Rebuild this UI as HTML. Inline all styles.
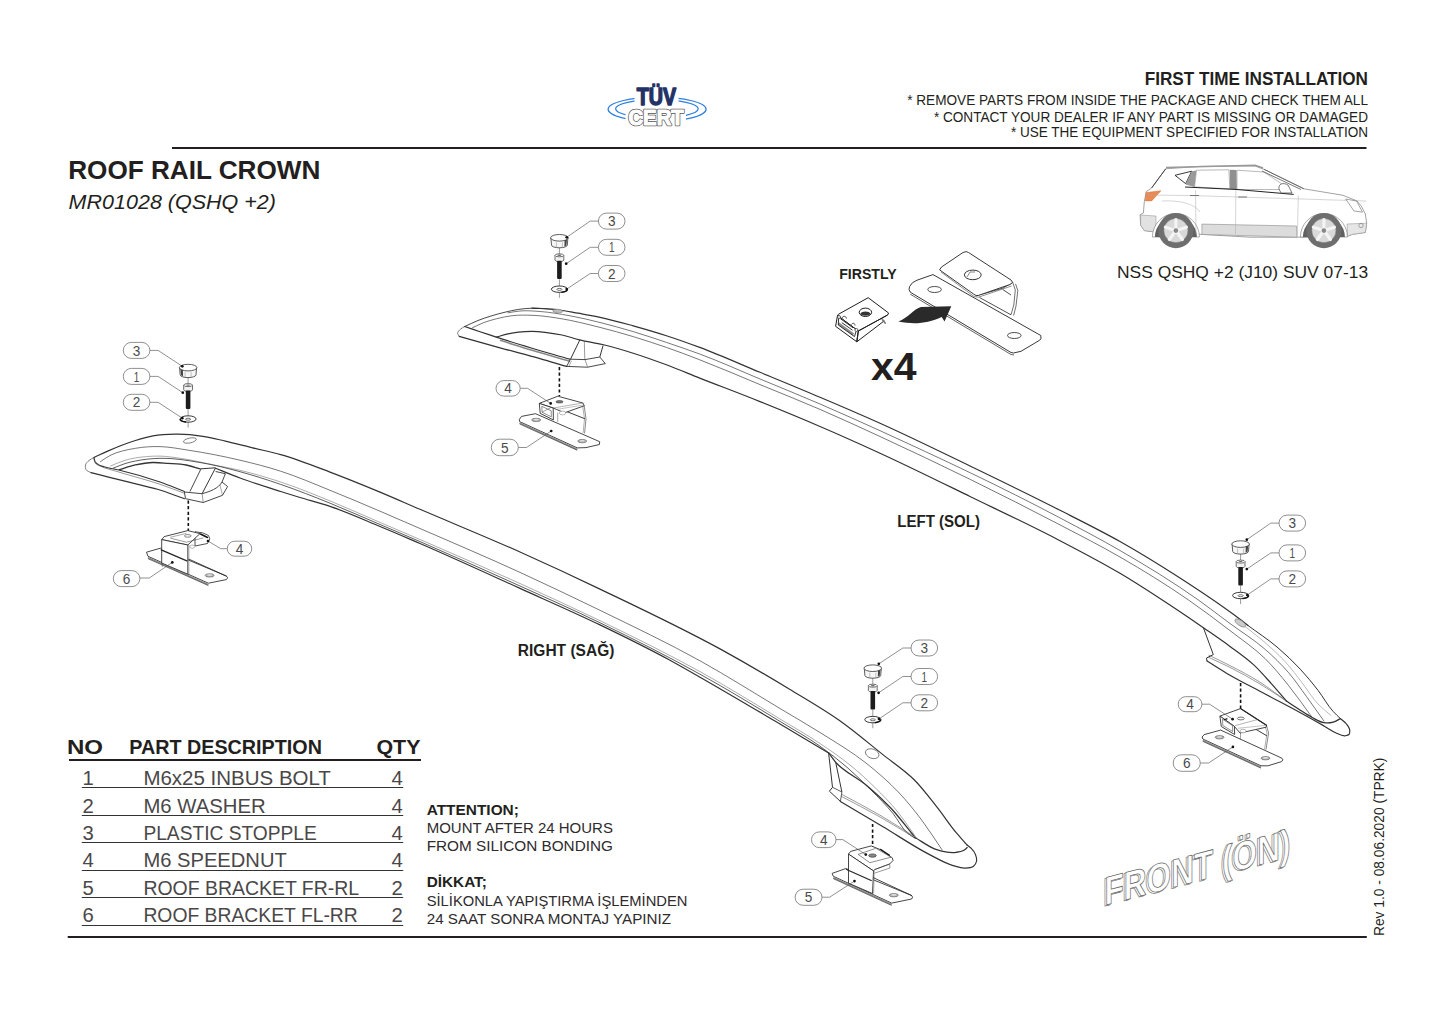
<!DOCTYPE html>
<html><head><meta charset="utf-8"><title>Roof Rail Crown</title>
<style>
html,body{margin:0;padding:0;background:#fff;width:1445px;height:1022px;overflow:hidden}
svg{display:block;font-family:"Liberation Sans",sans-serif}
.t{fill:#231f20}
.tb{fill:#231f20;font-weight:bold}
.tl{fill:#4a4748}
.tm{fill:#2e2b2c}
.ln{stroke:#231f20;fill:none}
.rl{stroke:#2b2b2b;fill:none;stroke-width:1.2;stroke-linejoin:round;stroke-linecap:round}
.th{stroke:#555;fill:none;stroke-width:0.7}
.bub{fill:#fff;stroke:#777;stroke-width:0.8}
.bn{fill:#444;font-size:13px;text-anchor:middle}
.ld{stroke:#555;fill:none;stroke-width:0.7}
</style></head>
<body>
<svg width="1445" height="1022" viewBox="0 0 1445 1022">
<rect width="1445" height="1022" fill="#fff"/>

<text class="tb" x="1144.7" y="84.9" font-size="17.9" textLength="223.3" lengthAdjust="spacingAndGlyphs" >FIRST TIME INSTALLATION</text>
<text class="t" x="907.2" y="104.8" font-size="15.4" textLength="460.8" lengthAdjust="spacingAndGlyphs" >* REMOVE PARTS FROM INSIDE THE PACKAGE AND CHECK THEM ALL</text>
<text class="t" x="933.9" y="121.5" font-size="15.4" textLength="434.1" lengthAdjust="spacingAndGlyphs" >* CONTACT YOUR DEALER IF ANY PART IS MISSING OR DAMAGED</text>
<text class="t" x="1010.9" y="137.4" font-size="15.4" textLength="357.1" lengthAdjust="spacingAndGlyphs" >* USE THE EQUIPMENT SPECIFIED FOR INSTALLATION</text>
<line class="ln" x1="172" y1="148" x2="1366.5" y2="148" stroke-width="2.2"/>
<text class="tb" x="68.2" y="179.1" font-size="26" textLength="252.2" lengthAdjust="spacingAndGlyphs" >ROOF RAIL CROWN</text>
<text class="t" x="68.6" y="209.1" font-size="20.5" textLength="207.4" lengthAdjust="spacingAndGlyphs" font-style="italic">MR01028 (QSHQ +2)</text>
<text class="tb" x="66.9" y="754.3" font-size="20.5" textLength="36.1" lengthAdjust="spacingAndGlyphs" >NO</text>
<text class="tb" x="129.3" y="754.3" font-size="20.5" textLength="192.6" lengthAdjust="spacingAndGlyphs" >PART DESCRIPTION</text>
<text class="tb" x="376.4" y="754.3" font-size="20.5" textLength="44.1" lengthAdjust="spacingAndGlyphs" >QTY</text>
<line class="ln" x1="69" y1="760" x2="421" y2="760" stroke-width="2"/>
<text class="tl" x="82.6" y="785" font-size="20.3" >1</text>
<text class="tl" x="143.4" y="785" font-size="20.3" textLength="187.5" lengthAdjust="spacingAndGlyphs" >M6x25 INBUS BOLT</text>
<text class="tl" x="391.6" y="785" font-size="20.3" >4</text>
<line x1="81.8" y1="787.5" x2="403.2" y2="787.5" stroke="#333" stroke-width="1.1"/>
<text class="tl" x="82.6" y="812.5" font-size="20.3" >2</text>
<text class="tl" x="143.4" y="812.5" font-size="20.3" textLength="122.2" lengthAdjust="spacingAndGlyphs" >M6 WASHER</text>
<text class="tl" x="391.6" y="812.5" font-size="20.3" >4</text>
<line x1="81.8" y1="815.5" x2="403.2" y2="815.5" stroke="#333" stroke-width="1.1"/>
<text class="tl" x="82.6" y="840" font-size="20.3" >3</text>
<text class="tl" x="143.4" y="840" font-size="20.3" textLength="173.4" lengthAdjust="spacingAndGlyphs" >PLASTIC STOPPLE</text>
<text class="tl" x="391.6" y="840" font-size="20.3" >4</text>
<line x1="81.8" y1="842.5" x2="403.2" y2="842.5" stroke="#333" stroke-width="1.1"/>
<text class="tl" x="82.6" y="867.4" font-size="20.3" >4</text>
<text class="tl" x="143.4" y="867.4" font-size="20.3" textLength="143.4" lengthAdjust="spacingAndGlyphs" >M6 SPEEDNUT</text>
<text class="tl" x="391.6" y="867.4" font-size="20.3" >4</text>
<line x1="81.8" y1="870.5" x2="403.2" y2="870.5" stroke="#333" stroke-width="1.1"/>
<text class="tl" x="82.6" y="895" font-size="20.3" >5</text>
<text class="tl" x="143.4" y="895" font-size="20.3" textLength="215.7" lengthAdjust="spacingAndGlyphs" >ROOF BRACKET FR-RL</text>
<text class="tl" x="391.6" y="895" font-size="20.3" >2</text>
<line x1="81.8" y1="897.5" x2="403.2" y2="897.5" stroke="#333" stroke-width="1.1"/>
<text class="tl" x="82.6" y="922.4" font-size="20.3" >6</text>
<text class="tl" x="143.4" y="922.4" font-size="20.3" textLength="214.4" lengthAdjust="spacingAndGlyphs" >ROOF BRACKET FL-RR</text>
<text class="tl" x="391.6" y="922.4" font-size="20.3" >2</text>
<line x1="81.8" y1="925.5" x2="403.2" y2="925.5" stroke="#333" stroke-width="1.1"/>
<text class="tb" x="426.7" y="814.8" font-size="15.3" textLength="92.2" lengthAdjust="spacingAndGlyphs" >ATTENTION;</text>
<text class="tm" x="426.7" y="832.8" font-size="15.3" textLength="186.2" lengthAdjust="spacingAndGlyphs" >MOUNT AFTER 24 HOURS</text>
<text class="tm" x="426.7" y="850.6" font-size="15.3" textLength="186.2" lengthAdjust="spacingAndGlyphs" >FROM SILICON BONDING</text>
<text class="tb" x="426.7" y="887" font-size="15.3" textLength="60.2" lengthAdjust="spacingAndGlyphs" >DİKKAT;</text>
<text class="tm" x="426.7" y="905.8" font-size="15.3" textLength="260.8" lengthAdjust="spacingAndGlyphs" >SİLİKONLA YAPIŞTIRMA İŞLEMİNDEN</text>
<text class="tm" x="426.7" y="923.9" font-size="15.3" textLength="244.3" lengthAdjust="spacingAndGlyphs" >24 SAAT SONRA MONTAJ YAPINIZ</text>
<line class="ln" x1="67.7" y1="937" x2="1366.8" y2="937" stroke-width="2"/>
<path d="M532.0,308.2 C540.0,308.6 548.1,308.6 556.0,309.5 C563.4,310.3 570.7,311.9 578.0,313.2 C585.3,314.5 592.7,315.7 600.0,317.3 C611.2,319.7 622.2,322.8 633.2,325.8 C644.3,328.9 655.4,332.1 666.4,335.7 C677.6,339.3 688.7,343.3 699.7,347.4 C720.1,355.0 739.9,364.0 760.0,372.3 C780.0,380.6 800.1,388.8 820.0,397.3 C840.1,405.8 860.1,414.4 880.0,423.3 C910.3,436.9 940.1,451.6 970.0,466.0 C1000.1,480.5 1030.2,495.1 1060.0,510.3 C1080.1,520.5 1100.4,530.5 1120.0,541.5 C1140.4,553.0 1160.3,565.3 1180.0,578.0 C1198.4,589.9 1216.8,602.0 1234.4,615.1 C1239.0,618.5 1243.5,622.0 1248.0,625.5" stroke-width="1.2" stroke="#333333" fill="none" stroke-linecap="round" stroke-linejoin="round"/>
<path d="M1248.0,625.5 C1257.7,632.7 1267.8,639.2 1277.0,647.0 C1285.2,654.0 1293.1,661.4 1300.4,669.3 C1306.6,676.0 1312.5,683.1 1318.1,690.4 C1323.4,697.3 1327.4,705.2 1333.3,711.6 C1335.5,714.0 1338.0,716.3 1340.4,718.6" stroke-width="1.0" stroke="#333333" fill="none" stroke-linecap="round" stroke-linejoin="round"/>
<path d="M464.7,326.5 C469.1,324.5 473.5,322.3 478.0,320.5 C482.2,318.8 486.5,317.4 490.8,316.1 C495.5,314.6 500.2,313.3 505.0,312.2 C509.4,311.1 513.9,310.1 518.4,309.4 C522.9,308.7 527.5,308.4 532.0,308.2 C540.0,307.9 548.0,309.1 556.0,309.5" stroke-width="0.9" stroke="#333333" fill="none" stroke-linecap="round" stroke-linejoin="round"/>
<path d="M508.0,312.8 C512.0,312.2 516.0,311.3 520.0,311.0 C526.6,310.4 533.4,311.0 540.0,311.5 C550.1,312.2 560.1,314.0 570.0,315.8 C580.1,317.6 590.1,320.0 600.0,322.5 C611.1,325.3 622.2,328.3 633.2,331.6 C644.3,334.9 655.4,338.7 666.4,342.4 C677.5,346.2 688.7,349.9 699.7,354.0 C720.1,361.6 739.9,370.6 760.0,379.0 C780.0,387.3 800.1,395.4 820.0,404.0 C840.1,412.7 860.1,421.6 880.0,430.7 C940.7,458.3 1001.1,486.8 1060.0,517.9 C1080.1,528.5 1100.3,539.1 1120.0,550.5 C1146.7,566.0 1173.2,582.1 1198.4,600.0 C1209.1,607.6 1219.4,615.7 1230.0,623.5 C1241.7,632.2 1254.3,639.8 1265.2,649.4 C1273.5,656.7 1281.5,664.4 1288.7,672.8 C1295.1,680.2 1300.5,688.4 1306.3,696.3 C1312.3,704.5 1318.0,712.8 1323.9,721.0" stroke-width="0.8" stroke="#555555" fill="none" stroke-linecap="round" stroke-linejoin="round"/>
<path d="M472.5,327.7 C476.3,326.0 480.1,324.0 484.0,322.5 C488.0,321.0 492.2,319.9 496.3,318.8 C501.8,317.4 507.3,316.2 512.9,315.6 C519.2,314.9 525.6,315.1 532.0,315.3 C541.4,315.6 550.7,317.0 560.0,318.5 C573.5,320.6 586.8,324.1 600.0,327.4 C611.1,330.2 622.2,333.3 633.2,336.6 C644.3,340.0 655.4,343.6 666.4,347.4 C677.6,351.3 688.7,355.5 699.7,359.8 C720.0,367.6 739.9,376.3 760.0,384.6 C780.0,392.8 800.1,400.8 820.0,409.4 C840.1,418.1 860.1,427.3 880.0,436.5 C940.7,464.5 1000.8,493.9 1060.0,524.9 C1080.1,535.4 1100.4,545.7 1120.0,557.0 C1143.3,570.5 1166.4,584.6 1188.5,600.0 C1202.6,609.8 1216.4,620.1 1230.0,630.6 C1241.9,639.8 1254.5,648.2 1265.2,658.7 C1273.7,667.0 1281.2,676.4 1288.7,685.7 C1297.0,696.0 1304.4,706.9 1312.2,717.5" stroke-width="0.8" stroke="#555555" fill="none" stroke-linecap="round" stroke-linejoin="round"/>
<path d="M496.3,337.1 C500.2,336.0 504.0,334.7 508.0,333.8 C511.4,333.1 514.9,332.5 518.4,332.1 C522.9,331.6 527.5,331.4 532.0,331.4 C536.3,331.4 540.7,331.8 545.0,332.3 C550.7,332.9 556.4,333.8 562.0,335.0 C567.9,336.3 573.6,338.4 579.5,339.8 C587.1,341.7 594.9,342.7 602.5,344.5 C612.8,347.0 623.1,350.0 633.2,353.2 C644.4,356.7 655.4,360.7 666.4,364.8 C677.6,369.0 688.6,373.7 699.7,378.1 C719.8,386.0 740.0,393.5 760.0,401.6 C780.1,409.7 800.1,417.9 820.0,426.5 C840.1,435.1 860.1,444.1 880.0,453.2 C910.3,467.1 940.1,481.9 970.0,496.5 C1000.1,511.1 1030.4,525.2 1060.0,540.7 C1080.2,551.2 1100.4,561.7 1120.0,573.3 C1133.5,581.3 1146.8,589.9 1160.0,598.5 C1174.6,608.0 1189.1,617.8 1203.4,627.7 C1212.3,633.9 1221.3,640.0 1230.0,646.4 C1238.0,652.3 1246.2,657.9 1253.5,664.6 C1259.8,670.4 1265.4,677.0 1271.1,683.4 C1276.3,689.2 1281.3,695.1 1286.4,701.0" stroke-width="1.2" stroke="#333333" fill="none" stroke-linecap="round" stroke-linejoin="round"/>
<path d="M464.7,326.5 C469.8,328.2 474.9,330.0 480.0,331.7 C485.4,333.5 490.9,335.3 496.3,337.1 C508.2,341.0 520.1,344.6 532.0,348.2 C544.6,352.0 557.3,355.5 569.9,359.2" stroke-width="1.2" stroke="#333333" fill="none" stroke-linecap="round" stroke-linejoin="round"/>
<path d="M500.0,340.3 C510.7,343.6 521.3,347.1 532.0,350.3 C544.6,354.1 557.3,357.6 569.9,361.2" stroke-width="1.6" stroke="#888" fill="none" />
<path d="M464.7,326.5 C463.3,327.4 461.7,328.1 460.5,329.2 C459.3,330.3 457.5,331.9 457.6,333.3 C457.7,334.3 458.7,335.3 459.2,336.3" stroke-width="0.7" stroke="#444" fill="none" stroke-linecap="round" stroke-linejoin="round"/>
<path d="M459.2,336.3 C472.8,340.1 486.4,344.0 500.0,347.8 C513.3,351.5 526.7,354.8 540.0,358.6 C548.9,361.1 557.7,363.8 566.6,366.4" stroke-width="1.25" stroke="#333333" fill="none" stroke-linecap="round" stroke-linejoin="round"/>
<path d="M579.9,339.8 L570.5,359.2" stroke-width="1.0" stroke="#333333" fill="none" stroke-linejoin="round"/>
<path d="M584.3,340.9 L584.8,359.5" stroke-width="0.6" stroke="#555555" fill="none" stroke-linejoin="round"/>
<path d="M603.1,345.4 L599.8,357.0" stroke-width="1.0" stroke="#333333" fill="none" stroke-linejoin="round"/>
<path d="M570.5,359.2 L585.0,359.6 L599.8,357.0 L605.3,363.6 L587.6,367.2 L566.6,366.4 L570.5,359.2" stroke-width="0.9" stroke="#333333" fill="none" stroke-linejoin="round"/>
<path d="M585.0,359.6 L587.6,367.2" stroke-width="0.6" stroke="#555555" fill="none" stroke-linejoin="round"/>
<path d="M571.5,360.8 L569.0,366.2" stroke-width="0.5" stroke="#555555" fill="none" stroke-linejoin="round"/>
<ellipse cx="557.7" cy="311" rx="5" ry="1.8" fill="#bbb" stroke="#777" stroke-width="0.5" transform="rotate(4 557.7 311)"/>
<path d="M1203.4,627.7 L1213.3,654.6 L1206.5,658.0 L1207.0,661.0" stroke-width="1.0" stroke="#333333" fill="none" stroke-linejoin="round"/>
<path d="M1209.0,655.3 C1216.0,658.7 1223.1,662.0 1230.0,665.6 C1240.2,670.8 1250.4,676.1 1260.0,682.2 C1269.1,688.0 1277.6,694.7 1286.4,701.0" stroke-width="0.6" stroke="#555555" fill="none" stroke-linecap="round" stroke-linejoin="round"/>
<path d="M1208.5,657.3 C1215.7,660.7 1222.9,663.8 1230.0,667.4 C1240.2,672.5 1250.2,678.1 1260.0,684.0 C1269.0,689.4 1277.6,695.3 1286.4,701.0" stroke-width="0.6" stroke="#555555" fill="none" stroke-linecap="round" stroke-linejoin="round"/>
<path d="M1207.0,661.0 C1214.7,665.7 1222.2,670.7 1230.0,675.2 C1241.5,681.9 1253.5,687.7 1265.2,694.0 C1276.9,700.3 1288.7,706.4 1300.4,712.8 C1308.3,717.1 1316.1,721.5 1323.9,725.9 C1327.8,728.1 1331.5,730.9 1335.7,732.7 C1338.7,734.0 1341.9,736.2 1345.0,735.8 C1346.3,735.6 1348.2,735.4 1349.0,734.5 C1349.7,733.7 1349.8,732.1 1349.8,731.0 C1349.9,728.3 1347.7,725.7 1346.0,723.5 C1344.5,721.6 1342.3,720.2 1340.4,718.6" stroke-width="1.2" stroke="#333333" fill="none" stroke-linecap="round" stroke-linejoin="round"/>
<path d="M1286.4,701.0 C1290.9,704.0 1295.4,707.1 1300.0,710.0 C1304.0,712.6 1308.0,715.3 1312.2,717.5 C1316.0,719.5 1319.8,722.1 1323.9,722.7 C1326.9,723.1 1330.3,722.9 1333.3,722.1 C1335.8,721.4 1338.0,719.8 1340.4,718.6" stroke-width="1.3" stroke="#333333" fill="none" stroke-linecap="round" stroke-linejoin="round"/>
<path d="M1236.0,619.5 C1244.7,626.3 1253.6,632.8 1262.0,640.0 C1269.9,646.8 1277.9,653.8 1285.0,661.5 C1291.5,668.6 1297.1,676.4 1303.0,684.0 C1308.1,690.6 1312.3,698.0 1318.0,704.0 C1322.0,708.2 1326.7,711.7 1331.0,715.5" stroke-width="0.5" stroke="#777" fill="none" stroke-linecap="round" stroke-linejoin="round"/>
<ellipse cx="1240.3" cy="623" rx="6.2" ry="2.6" fill="#ccc" stroke="#777" stroke-width="0.6" transform="rotate(33 1240.3 623)"/>
<path d="M94.0,457.5 C98.6,455.4 103.1,453.1 107.7,451.1 C116.8,447.1 126.0,443.4 135.4,440.5 C141.2,438.7 147.1,436.9 153.0,435.8 C161.2,434.3 169.7,434.1 178.0,434.2 C186.3,434.3 194.7,435.1 202.9,436.3 C210.5,437.4 217.9,439.4 225.4,441.1 C234.5,443.2 243.6,445.6 252.7,447.8 C262.0,450.1 271.5,452.0 280.7,454.6 C297.5,459.3 313.7,465.9 330.0,472.1 C346.8,478.4 363.4,485.2 380.0,492.1 C393.4,497.7 406.7,503.6 420.0,509.3 C453.3,523.6 486.9,537.2 520.0,552.0 C546.8,564.0 573.5,576.4 600.0,589.1 C640.3,608.4 680.8,627.4 720.0,648.9 C743.6,661.9 766.9,675.5 790.0,689.5 C806.4,699.4 823.1,709.0 838.8,720.0 C854.0,730.7 868.1,742.8 882.6,754.4 C893.1,762.7 904.4,770.1 913.9,779.5 C922.6,788.1 929.8,798.1 937.4,807.7 C943.9,815.9 949.5,824.7 956.2,832.7 C959.8,837.0 963.5,841.0 967.2,845.2" stroke-width="1.2" stroke="#333333" fill="none" stroke-linecap="round" stroke-linejoin="round"/>
<path d="M100.5,461.6 C103.7,459.6 106.7,457.2 110.0,455.5 C117.7,451.5 126.8,449.8 135.4,448.3 C143.5,446.9 151.8,446.4 160.0,446.6 C169.5,446.8 179.0,448.8 188.4,450.2 C205.7,452.8 223.0,456.2 240.0,460.2 C253.7,463.4 267.3,466.9 280.7,471.2 C297.5,476.6 313.7,483.7 330.0,490.3 C346.8,497.0 363.4,504.1 380.0,511.2 C393.4,516.9 406.7,522.7 420.0,528.5 C453.4,543.0 486.9,557.2 520.0,572.4 C546.8,584.7 573.5,597.4 600.0,610.3 C633.6,626.7 667.4,642.7 700.0,660.8 C727.1,675.8 753.4,692.6 780.0,708.5 C793.3,716.5 806.8,724.2 820.0,732.5 C835.9,742.5 852.3,752.1 867.0,763.8 C878.0,772.5 888.6,781.9 898.3,792.0 C906.7,800.8 914.4,810.4 921.8,820.2 C929.0,829.8 935.3,840.0 942.1,849.9" stroke-width="0.8" stroke="#555555" fill="none" stroke-linecap="round" stroke-linejoin="round"/>
<path d="M110.5,466.0 C115.3,464.1 120.0,461.8 125.0,460.3 C131.9,458.2 139.2,457.2 146.4,456.6 C150.9,456.2 155.5,456.0 160.0,456.1 C167.2,456.2 174.4,457.5 181.5,458.5 C193.1,460.2 204.6,463.1 216.1,465.4 C224.1,467.0 232.1,468.4 240.0,470.3 C253.7,473.5 267.3,477.6 280.7,482.0 C297.4,487.5 313.7,494.3 330.0,500.9 C346.8,507.7 363.3,515.3 380.0,522.4 C393.3,528.1 406.7,533.8 420.0,539.5 C453.4,553.9 486.8,568.5 520.0,583.5 C546.8,595.7 573.5,607.9 600.0,620.7 C633.7,637.0 667.3,653.5 700.0,671.6 C727.1,686.6 753.5,702.9 780.0,719.0 C793.4,727.1 807.0,734.8 820.0,743.5 C830.2,750.3 840.4,757.3 850.0,765.0 C858.7,772.0 867.0,779.7 875.0,787.5 C882.6,795.0 890.2,802.7 897.0,811.0 C902.3,817.5 907.1,824.6 912.0,831.5 C913.5,833.7 915.0,835.8 916.5,838.0" stroke-width="0.55" stroke="#666" fill="none" stroke-linecap="round" stroke-linejoin="round"/>
<path d="M113.2,468.2 C117.1,466.7 121.0,464.9 125.0,463.6 C128.4,462.5 131.9,461.7 135.4,461.0 C143.5,459.3 151.8,458.5 160.0,458.3 C173.3,457.9 186.8,460.3 200.0,462.5 C213.5,464.7 226.8,468.1 240.0,471.7 C253.7,475.4 267.3,479.8 280.7,484.4 C297.3,490.1 313.7,496.6 330.0,503.2 C346.8,510.0 363.3,517.4 380.0,524.5 C393.3,530.2 406.7,535.8 420.0,541.6 C453.5,556.1 486.8,571.0 520.0,586.0 C546.7,598.1 573.6,610.0 600.0,622.8 C633.7,639.1 667.2,656.0 700.0,674.2 C727.1,689.2 753.6,705.3 780.0,721.4 C793.4,729.6 807.2,737.1 820.0,746.2 C829.3,752.8 838.4,759.9 847.0,767.3 C855.3,774.5 863.2,782.2 871.0,790.0 C878.6,797.6 886.2,805.2 893.0,813.5 C898.3,819.9 901.6,828.3 908.0,833.5 C910.3,835.4 913.0,836.8 915.5,838.5" stroke-width="0.8" stroke="#333" fill="none" stroke-linecap="round" stroke-linejoin="round"/>
<path d="M215.4,468.2 C223.6,471.5 231.7,474.9 240.0,478.0 C253.4,483.0 267.1,487.2 280.7,491.5 C287.1,493.5 293.6,495.5 300.0,497.5 C310.0,500.5 320.1,503.1 330.0,506.4 C347.0,512.1 363.4,519.6 380.0,526.5 C393.4,532.0 406.7,537.8 420.0,543.5 C453.5,558.0 486.7,573.3 520.0,588.4 C546.7,600.5 573.6,612.2 600.0,624.9 C623.4,636.2 646.7,647.6 669.5,660.0 C679.7,665.6 689.9,671.4 700.0,677.2 C726.8,692.5 753.4,708.3 780.0,724.0 C796.2,733.6 812.4,743.3 828.6,752.9" stroke-width="1.2" stroke="#333333" fill="none" stroke-linecap="round" stroke-linejoin="round"/>
<path d="M828.6,752.9 C831.0,756.0 833.2,759.3 835.7,762.3 C844.2,772.1 857.1,777.4 867.0,785.8 C875.2,792.7 883.1,800.0 890.5,807.7 C898.9,816.5 906.1,826.5 913.9,835.9" stroke-width="1.3" stroke="#333333" fill="none" stroke-linecap="round" stroke-linejoin="round"/>
<path d="M828.6,752.9 L832.5,787.3 L829.4,791.2 L840.4,801.4" stroke-width="1.0" stroke="#333333" fill="none" stroke-linejoin="round"/>
<path d="M835.7,762.3 L841.9,792.0" stroke-width="1.0" stroke="#333333" fill="none" stroke-linejoin="round"/>
<path d="M832.5,787.3 L841.9,792.0 L840.4,801.4" stroke-width="0.8" stroke="#333333" fill="none" stroke-linejoin="round"/>
<path d="M841.9,794.4 C854.6,801.3 867.5,807.9 880.0,815.2 C891.7,822.0 903.0,829.5 914.5,836.6" stroke-width="0.6" stroke="#555555" fill="none" stroke-linecap="round" stroke-linejoin="round"/>
<path d="M841.5,796.4 C854.3,803.3 867.3,809.8 880.0,817.0 C891.6,823.6 903.0,830.7 914.5,837.6" stroke-width="0.6" stroke="#555555" fill="none" stroke-linecap="round" stroke-linejoin="round"/>
<path d="M840.4,801.4 C854.5,809.8 868.5,818.1 882.6,826.5 C898.3,835.8 913.3,846.3 929.6,854.6 C937.3,858.5 944.8,863.2 953.1,865.6 C957.0,866.7 961.0,868.4 965.0,868.2 C967.8,868.1 971.5,868.0 973.5,866.3 C974.9,865.1 976.2,862.9 976.6,861.0 C977.0,859.0 976.3,856.6 975.5,854.6 C974.6,852.2 972.8,850.0 971.0,848.2 C969.9,847.1 968.5,846.2 967.2,845.2" stroke-width="1.2" stroke="#333333" fill="none" stroke-linecap="round" stroke-linejoin="round"/>
<path d="M914.5,837.2 C922.1,841.4 929.2,847.5 937.4,849.9 C943.4,851.7 950.0,853.2 956.2,852.3 C958.6,852.0 961.4,851.7 963.5,850.5 C964.8,849.8 966.0,848.6 967.2,847.6" stroke-width="1.3" stroke="#333333" fill="none" stroke-linecap="round" stroke-linejoin="round"/>
<ellipse cx="872.2" cy="753.7" rx="7" ry="4.6" fill="#fff" stroke="#555" stroke-width="0.7" transform="rotate(20 872.2 753.7)"/>
<path d="M94.0,457.5 C94.3,458.8 94.4,460.3 95.0,461.5 C95.7,462.8 97.2,463.9 98.5,464.8 C100.1,465.8 102.1,466.2 104.0,466.8 C108.8,468.3 113.9,468.8 118.8,470.0 C132.7,473.3 146.5,477.4 160.0,482.1 C168.2,485.0 176.3,488.4 184.4,491.5" stroke-width="1.1" stroke="#333333" fill="none" stroke-linecap="round" stroke-linejoin="round"/>
<path d="M93.8,458.8 C94.4,460.4 94.5,462.3 95.5,463.5 C96.5,464.7 98.5,465.2 100.0,466.0 C105.6,468.8 112.0,469.9 118.0,471.8 C131.9,476.2 146.2,479.6 160.0,484.3 C168.2,487.1 176.3,490.3 184.4,493.3" stroke-width="0.6" stroke="#555555" fill="none" stroke-linecap="round" stroke-linejoin="round"/>
<path d="M94.0,457.5 C92.3,458.5 90.4,459.2 89.0,460.5 C87.6,461.7 85.9,463.3 85.5,465.0 C85.2,466.5 85.4,468.6 86.2,469.8 C87.1,471.3 89.5,471.7 91.1,472.7" stroke-width="0.7" stroke="#444" fill="none" stroke-linecap="round" stroke-linejoin="round"/>
<path d="M91.1,472.7 C104.1,475.9 117.0,479.2 130.0,482.4 C139.2,484.7 148.5,486.6 157.5,489.3 C166.6,492.0 175.4,495.6 184.4,498.7" stroke-width="1.2" stroke="#333333" fill="none" stroke-linecap="round" stroke-linejoin="round"/>
<path d="M119.3,469.6 C124.7,468.0 129.9,466.1 135.4,464.9 C141.2,463.7 147.1,462.7 153.0,462.5 C157.9,462.4 162.8,463.0 167.7,463.4 C173.9,463.8 180.2,463.8 186.3,465.0 C191.0,465.9 195.6,467.6 200.2,468.9" stroke-width="1.3" stroke="#333333" fill="none" stroke-linecap="round" stroke-linejoin="round"/>
<path d="M201.0,468.8 L215.4,467.8" stroke-width="1.0" stroke="#333333" fill="none" stroke-linejoin="round"/>
<path d="M201.0,468.8 L189.9,491.5" stroke-width="0.9" stroke="#333333" fill="none" stroke-linejoin="round"/>
<path d="M215.4,468.2 L202.1,493.7" stroke-width="1.0" stroke="#333333" fill="none" stroke-linejoin="round"/>
<path d="M215.6,471.5 L225.4,473.7 L222.0,482.0 L227.6,486.5 L222.5,495.3 L203.2,502.5 L185.5,498.7 L184.4,492.0 L202.1,493.7" stroke-width="0.9" stroke="#333333" fill="none" stroke-linejoin="round"/>
<path d="M202.1,493.7 C210,491.5 218.5,488.5 222,482" stroke-width="0.9" stroke="#333333" fill="none" />
<path d="M202.1,493.7 L203.2,502.5" stroke-width="0.6" stroke="#555555" fill="none" stroke-linejoin="round"/>
<path d="M219.8,484.5 L222.5,495.3" stroke-width="0.5" stroke="#555555" fill="none" stroke-linejoin="round"/>
<ellipse cx="189.9" cy="440.5" rx="6.6" ry="2.4" fill="#fff" stroke="#555" stroke-width="0.7" transform="rotate(-12 189.9 440.5)"/>
<line x1="559.4" y1="367" x2="559.4" y2="396" stroke="#111" stroke-width="1.6" stroke-dasharray="3.2,2.4"/>
<path d="M519.4,419.3 L521.5,416.4 L535.5,413.7 L599.7,441.7 L599.4,444.5 L586.0,447.6 L577.3,447.9 L519.6,421.6 Z" fill="#fff" stroke="#262626" stroke-width="0.85" stroke-linejoin="round"/>
<path d="M519.6,423.1 L577.3,449.4" stroke="#8a8a8a" stroke-width="1.6" fill="none"/>
<path d="M519.6,424.0 L577.3,450.29999999999995" stroke="#333" stroke-width="0.6" fill="none"/>
<ellipse cx="536.2" cy="419.9" rx="4.5" ry="1.7" fill="#b5b5b5" stroke="#555" stroke-width="0.6"/><ellipse cx="536.2" cy="419.6" rx="2.5" ry="0.8" fill="#e0e0e0"/>
<ellipse cx="582.2" cy="441.1" rx="4.5" ry="1.7" fill="#b5b5b5" stroke="#555" stroke-width="0.6"/><ellipse cx="582.2" cy="440.8" rx="2.5" ry="0.8" fill="#e0e0e0"/>
<path d="M584.2,405.8 L586.0,419.0 L584.6,433.0" fill="none" stroke="#555" stroke-width="0.7" stroke-linejoin="round" stroke-linecap="round"/>
<path d="M582.8,406.5 L584.5,419.0 L583.1,432.8" fill="none" stroke="#777" stroke-width="0.6" stroke-linejoin="round" stroke-linecap="round"/>
<path d="M564.8,410.8 L584.5,418.6" fill="none" stroke="#262626" stroke-width="0.9" stroke-linejoin="round" stroke-linecap="round"/>
<path d="M557.7,413.0 L557.7,421.5" fill="none" stroke="#666" stroke-width="0.6" stroke-linejoin="round" stroke-linecap="round"/>
<path d="M539.3,403.4 L557.8,396.2 L582.9,403.0 L584.2,405.8 L564.5,412.8 L553.2,408.0 Z" fill="#fff" stroke="#262626" stroke-width="0.85" stroke-linejoin="round"/>
<path d="M553.2,408.0 L582.9,403.0" fill="none" stroke="#666" stroke-width="0.5" stroke-linejoin="round" stroke-linecap="round"/>
<path d="M556.0,409.5 L583.5,405.0" fill="none" stroke="#888" stroke-width="0.5" stroke-linejoin="round" stroke-linecap="round"/>
<ellipse cx="562.5" cy="413" rx="3.2" ry="1.9" fill="#fff" stroke="#777" stroke-width="0.5"/>
<path d="M539.3,403.4 L540.2,413.4 L553.4,419.9 L553.2,408.0 Z" fill="#fff" stroke="#262626" stroke-width="0.85" stroke-linejoin="round"/>
<path d="M541.8,406.3 L542.1,412.3 L551.4,416.8 L551.2,410.8 Z" fill="#fff" stroke="#444" stroke-width="0.6" stroke-linejoin="round"/>
<path d="M542.3,412.0 L550.5,407.8" fill="none" stroke="#444" stroke-width="0.5" stroke-linejoin="round" stroke-linecap="round"/>
<ellipse cx="559.5" cy="401.8" rx="3.6" ry="1.3" fill="#777" stroke="#333" stroke-width="0.5"/>
<path d="M520.2,388.3 L527.5,388.3 L550.7,403.4" fill="none" stroke="#555" stroke-width="0.65"/><circle cx="550.7" cy="403.4" r="1.35" fill="#111"/>
<rect x="496.0" y="380.6" width="24.2" height="15.5" rx="7.8" ry="7.8" fill="#fff" stroke="#6a6a6a" stroke-width="0.75"/><text x="508.1" y="393.4" font-size="14.5" fill="#4a4a4a" text-anchor="middle" textLength="7.6" lengthAdjust="spacingAndGlyphs">4</text>
<path d="M518.3,447.5 L526.5,447.5 L551.2,431.0" fill="none" stroke="#555" stroke-width="0.65"/><circle cx="551.2" cy="431.0" r="1.35" fill="#111"/>
<rect x="491.3" y="439.2" width="27.0" height="16.5" rx="8.2" ry="8.2" fill="#fff" stroke="#6a6a6a" stroke-width="0.75"/><text x="504.8" y="452.6" font-size="14.5" fill="#4a4a4a" text-anchor="middle" textLength="7.6" lengthAdjust="spacingAndGlyphs">5</text>
<line x1="1240.6" y1="683" x2="1240.6" y2="708.5" stroke="#111" stroke-width="1.6" stroke-dasharray="3.2,2.4"/>
<path d="M1202.1,737.0 L1204.2,734.6 L1220.6,730.1 L1281.9,758.2 L1282.9,759.9 L1281.6,761.6 L1267.9,765.8 L1261.0,765.8 L1202.8,739.0 Z" fill="#fff" stroke="#262626" stroke-width="0.85" stroke-linejoin="round"/>
<path d="M1202.8,740.5 L1261,767.3" stroke="#8a8a8a" stroke-width="1.6" fill="none"/>
<path d="M1202.8,741.4 L1261,768.1999999999999" stroke="#333" stroke-width="0.6" fill="none"/>
<ellipse cx="1219.6" cy="737.3" rx="4.5" ry="1.7" fill="#b5b5b5" stroke="#555" stroke-width="0.6"/><ellipse cx="1219.6" cy="737.0" rx="2.5" ry="0.8" fill="#e0e0e0"/>
<ellipse cx="1265.5" cy="758.2" rx="4.5" ry="1.7" fill="#b5b5b5" stroke="#555" stroke-width="0.6"/><ellipse cx="1265.5" cy="757.9" rx="2.5" ry="0.8" fill="#e0e0e0"/>
<path d="M1266.5,725.3 L1268.6,733.0 L1266.0,749.3" fill="none" stroke="#555" stroke-width="0.7" stroke-linejoin="round" stroke-linecap="round"/>
<path d="M1265.0,726.0 L1267.0,733.0 L1264.6,749.1" fill="none" stroke="#777" stroke-width="0.6" stroke-linejoin="round" stroke-linecap="round"/>
<path d="M1256.2,729.5 L1266.5,735.6" fill="none" stroke="#262626" stroke-width="0.9" stroke-linejoin="round" stroke-linecap="round"/>
<path d="M1240.5,731.5 L1240.5,739.0" fill="none" stroke="#666" stroke-width="0.6" stroke-linejoin="round" stroke-linecap="round"/>
<path d="M1219.9,716.1 L1240.5,708.6 L1266.5,725.3 L1266.2,727.2 L1240.0,733.0 L1234.5,726.5 Z" fill="#fff" stroke="#262626" stroke-width="0.85" stroke-linejoin="round"/>
<path d="M1240.5,708.6 L1266.5,725.3" fill="none" stroke="#262626" stroke-width="1.2" stroke-linejoin="round" stroke-linecap="round"/>
<path d="M1235.5,725.5 L1257.0,719.7" fill="none" stroke="#666" stroke-width="0.5" stroke-linejoin="round" stroke-linecap="round"/>
<path d="M1238.5,728.2 L1264.5,725.5" fill="none" stroke="#888" stroke-width="0.5" stroke-linejoin="round" stroke-linecap="round"/>
<ellipse cx="1243" cy="731" rx="3" ry="1.8" fill="#fff" stroke="#777" stroke-width="0.5"/>
<path d="M1219.9,716.1 L1221.3,726.5 L1234.6,734.5 L1234.5,726.5 Z" fill="#fff" stroke="#262626" stroke-width="0.85" stroke-linejoin="round"/>
<path d="M1222.5,719.2 L1222.8,725.5 L1232.7,731.5 L1232.5,725.6 Z" fill="#fff" stroke="#444" stroke-width="0.6" stroke-linejoin="round"/>
<path d="M1224.5,719.5 L1227.0,718.8" fill="none" stroke="#111" stroke-width="1.2" stroke-linejoin="round" stroke-linecap="round"/>
<ellipse cx="1240.8" cy="718.5" rx="3.4" ry="1.4" fill="#fff" stroke="#333" stroke-width="0.7"/>
<path d="M1201.8,704.2 L1209.6,704.2 L1232.6,719.2" fill="none" stroke="#555" stroke-width="0.65"/><circle cx="1232.6" cy="719.2" r="1.35" fill="#111"/>
<rect x="1178.2" y="696.7" width="23.7" height="15.0" rx="7.5" ry="7.5" fill="#fff" stroke="#6a6a6a" stroke-width="0.75"/><text x="1190.0" y="709.3" font-size="14.5" fill="#4a4a4a" text-anchor="middle" textLength="7.6" lengthAdjust="spacingAndGlyphs">4</text>
<path d="M1200.4,763.0 L1208.6,763.0 L1232.9,746.9" fill="none" stroke="#555" stroke-width="0.65"/><circle cx="1232.9" cy="746.9" r="1.35" fill="#111"/>
<rect x="1173.2" y="754.8" width="27.1" height="16.5" rx="8.2" ry="8.2" fill="#fff" stroke="#6a6a6a" stroke-width="0.75"/><text x="1186.8" y="768.1" font-size="14.5" fill="#4a4a4a" text-anchor="middle" textLength="7.6" lengthAdjust="spacingAndGlyphs">6</text>
<line x1="188.3" y1="500.5" x2="188.3" y2="531.6" stroke="#111" stroke-width="1.6" stroke-dasharray="3.2,2.4"/>
<path d="M146.5,552.2 L160.4,548.2 L226.4,576.1 L227.7,577.8 L226.4,579.6 L208.4,583.2 L148.0,556.3 Z" fill="#fff" stroke="#262626" stroke-width="0.85" stroke-linejoin="round"/>
<path d="M148,557.8 L208.4,584.7" stroke="#8a8a8a" stroke-width="1.6" fill="none"/>
<path d="M148,558.6999999999999 L208.4,585.6" stroke="#333" stroke-width="0.6" fill="none"/>
<ellipse cx="209.6" cy="575.4" rx="4.5" ry="1.7" fill="#b5b5b5" stroke="#555" stroke-width="0.6"/><ellipse cx="209.6" cy="575.1" rx="2.5" ry="0.8" fill="#e0e0e0"/>
<path d="M195.0,531.8 L202.5,532.8 L208.5,535.5 L209.8,538.8 L207.5,543.5 L195.0,546.0 Z" fill="#fff" stroke="#262626" stroke-width="0.8" stroke-linejoin="round"/>
<path d="M200.5,534.0 L207.5,537.5" fill="none" stroke="#111" stroke-width="1.4" stroke-linejoin="round" stroke-linecap="round"/>
<path d="M161.7,539.6 L164.2,536.6 L187.8,530.6 L200.0,533.6 L187.8,545.0 Z" fill="#fff" stroke="#262626" stroke-width="0.85" stroke-linejoin="round"/>
<path d="M171.0,538.3 L186.5,542.2 L203.0,538.0" fill="none" stroke="#555" stroke-width="0.6" stroke-linejoin="round" stroke-linecap="round"/>
<path d="M170.5,537.2 L186.0,533.5" fill="none" stroke="#555" stroke-width="0.5" stroke-linejoin="round" stroke-linecap="round"/>
<path d="M161.7,539.6 L187.8,545.0 L187.8,574.2 L161.7,563.0 Z" fill="#fff" stroke="#262626" stroke-width="0.85" stroke-linejoin="round"/>
<path d="M161.2,549.8 L186.8,560.8" fill="none" stroke="#262626" stroke-width="1.3" stroke-linejoin="round" stroke-linecap="round"/>
<path d="M188.9,545.3 L188.9,574.0" fill="none" stroke="#777" stroke-width="0.6" stroke-linejoin="round" stroke-linecap="round"/>
<path d="M189.0,559.2 L226.4,576.1" fill="none" stroke="#262626" stroke-width="0.85" stroke-linejoin="round" stroke-linecap="round"/>
<ellipse cx="192.2" cy="546.7" rx="2.3" ry="1.7" fill="#fff" stroke="#777" stroke-width="0.5"/>
<ellipse cx="187.8" cy="535.9" rx="3.4" ry="1.3" fill="#fff" stroke="#333" stroke-width="0.6"/>
<path d="M161.7,563.0 L162.3,566.5" fill="none" stroke="#444" stroke-width="0.6" stroke-linejoin="round" stroke-linecap="round"/>
<path d="M227.4,548.7 L220.7,548.7 L208.0,541.0" fill="none" stroke="#555" stroke-width="0.65"/><circle cx="208.0" cy="541.0" r="1.35" fill="#111"/>
<rect x="227.3" y="541.2" width="24.4" height="15.0" rx="7.5" ry="7.5" fill="#fff" stroke="#6a6a6a" stroke-width="0.75"/><text x="239.5" y="553.8" font-size="14.5" fill="#4a4a4a" text-anchor="middle" textLength="7.6" lengthAdjust="spacingAndGlyphs">4</text>
<path d="M139.9,578.0 L149.3,578.0 L172.3,562.4" fill="none" stroke="#555" stroke-width="0.65"/><circle cx="172.3" cy="562.4" r="1.35" fill="#111"/>
<rect x="113.3" y="570.6" width="26.6" height="16.0" rx="8.0" ry="8.0" fill="#fff" stroke="#6a6a6a" stroke-width="0.75"/><text x="126.6" y="583.7" font-size="14.5" fill="#4a4a4a" text-anchor="middle" textLength="7.6" lengthAdjust="spacingAndGlyphs">6</text>
<line x1="872.6" y1="823.9" x2="872.6" y2="847.5" stroke="#111" stroke-width="1.6" stroke-dasharray="3.2,2.4"/>
<path d="M832.1,873.4 L845.8,868.5 L911.6,895.5 L912.6,897.2 L911.6,899.0 L891.7,903.1 L833.3,876.3 Z" fill="#fff" stroke="#262626" stroke-width="0.85" stroke-linejoin="round"/>
<path d="M833.3,877.8 L891.7,904.6" stroke="#8a8a8a" stroke-width="1.6" fill="none"/>
<path d="M833.3,878.6999999999999 L891.7,905.5" stroke="#333" stroke-width="0.6" fill="none"/>
<ellipse cx="893.8" cy="895.2" rx="4.5" ry="1.7" fill="#b5b5b5" stroke="#555" stroke-width="0.6"/><ellipse cx="893.8" cy="894.9" rx="2.5" ry="0.8" fill="#e0e0e0"/>
<path d="M848.5,854.1 L850.6,851.4 L871.2,845.9 L880.0,849.5 L892.4,857.9 L893.0,860.6 L889.6,864.0 L874.6,869.6 L873.5,870.9 Z" fill="#fff" stroke="#262626" stroke-width="0.85" stroke-linejoin="round"/>
<path d="M858.1,854.4 L875.9,848.3 L891.0,857.2 L869.8,862.7 Z" fill="#fff" stroke="#444" stroke-width="0.6" stroke-linejoin="round"/>
<path d="M880.5,849.3 L889.5,855.2" fill="none" stroke="#111" stroke-width="1.2" stroke-linejoin="round" stroke-linecap="round"/>
<path d="M848.5,854.1 L873.5,870.9 L872.5,893.5 L848.5,883.2 Z" fill="#fff" stroke="#262626" stroke-width="0.85" stroke-linejoin="round"/>
<path d="M846.5,869.5 L871.2,880.5" fill="none" stroke="#262626" stroke-width="1.3" stroke-linejoin="round" stroke-linecap="round"/>
<path d="M874.3,871.2 L873.6,893.3" fill="none" stroke="#777" stroke-width="0.6" stroke-linejoin="round" stroke-linecap="round"/>
<path d="M873.4,877.7 L911.6,895.5" fill="none" stroke="#262626" stroke-width="0.85" stroke-linejoin="round" stroke-linecap="round"/>
<path d="M874.6,869.6 L889.6,864.0 L890.0,868.0 L875.0,873.0" fill="none" stroke="#555" stroke-width="0.6" stroke-linejoin="round" stroke-linecap="round"/>
<ellipse cx="872.5" cy="855.6" rx="3.8" ry="1.7" fill="#888" stroke="#222" stroke-width="0.6"/>
<path d="M836.0,839.6 L842.8,839.6 L865.8,854.6" fill="none" stroke="#555" stroke-width="0.65"/><circle cx="865.8" cy="854.6" r="1.35" fill="#111"/>
<rect x="811.5" y="831.9" width="24.5" height="15.7" rx="7.8" ry="7.8" fill="#fff" stroke="#6a6a6a" stroke-width="0.75"/><text x="823.8" y="844.9" font-size="14.5" fill="#4a4a4a" text-anchor="middle" textLength="7.6" lengthAdjust="spacingAndGlyphs">4</text>
<path d="M821.8,897.2 L829.6,897.2 L854.5,881.1" fill="none" stroke="#555" stroke-width="0.65"/><circle cx="854.5" cy="881.1" r="1.35" fill="#111"/>
<rect x="795.1" y="889.2" width="26.9" height="16.1" rx="8.1" ry="8.1" fill="#fff" stroke="#6a6a6a" stroke-width="0.75"/><text x="808.6" y="902.3" font-size="14.5" fill="#4a4a4a" text-anchor="middle" textLength="7.6" lengthAdjust="spacingAndGlyphs">5</text>
<line x1="1240.6" y1="553.6" x2="1240.6" y2="560.3" stroke="#555" stroke-width="0.6"/>
<line x1="1240.6" y1="585.6" x2="1240.6" y2="593.1" stroke="#555" stroke-width="0.6"/>
<line x1="1240.6" y1="598.1" x2="1240.6" y2="604.1" stroke="#555" stroke-width="0.6"/>
<path d="M1232.1,544.1 L1232.7,551.4 A7.9,2.7 0 0 0 1248.5,551.4 L1249.1,544.1" fill="#f6f6f6" stroke="#333" stroke-width="0.8"/>
<ellipse cx="1240.6" cy="544.1" rx="8.8" ry="3.3" fill="#fff" stroke="#333" stroke-width="0.8"/>
<path d="M1237.6,548.6 L1237.6,553.4 M1243.6,548.7 L1243.6,553.4" stroke="#888" stroke-width="0.5"/>
<path d="M1245.8,546.5 L1248.2,545.7 L1247.6,551.7 L1245.6,552.7 Z" fill="#444"/>
<path d="M1236.2,561.6 L1236.2,566.4 A4.4,1.5 0 0 0 1245.0,566.4 L1245.0,561.6" fill="#f2f2f2" stroke="#333" stroke-width="0.7"/>
<ellipse cx="1240.6" cy="561.6" rx="4.4" ry="1.5" fill="#fff" stroke="#333" stroke-width="0.7"/>
<ellipse cx="1240.6" cy="561.6" rx="2" ry="0.7" fill="#666"/>
<rect x="1238.3" y="567.0" width="4.6" height="18.4" rx="1" fill="#1c1c1c"/>
<ellipse cx="1240.6" cy="595.5" rx="8" ry="3.2" fill="#fff" stroke="#222" stroke-width="0.9"/>
<ellipse cx="1240.6" cy="595.7" rx="2.6" ry="1" fill="none" stroke="#333" stroke-width="0.7"/>
<path d="M1242.6,598.6 A8,3.2 0 0 0 1248.6,595.5" fill="none" stroke="#111" stroke-width="1.5"/>
<path d="M1279.0,523.1 L1270.8,523.1 L1246.8,539.7" fill="none" stroke="#555" stroke-width="0.65"/><circle cx="1246.8" cy="539.7" r="1.35" fill="#111"/>
<rect x="1279.0" y="515.1" width="26.6" height="16.0" rx="8.0" ry="8.0" fill="#fff" stroke="#6a6a6a" stroke-width="0.75"/><text x="1292.3" y="528.2" font-size="14.5" fill="#4a4a4a" text-anchor="middle" textLength="7.6" lengthAdjust="spacingAndGlyphs">3</text>
<path d="M1279.0,552.9 L1270.8,552.9 L1246.8,569.1" fill="none" stroke="#555" stroke-width="0.65"/><circle cx="1246.8" cy="569.1" r="1.35" fill="#111"/>
<rect x="1279.0" y="544.9" width="26.6" height="16.0" rx="8.0" ry="8.0" fill="#fff" stroke="#6a6a6a" stroke-width="0.75"/><text x="1292.3" y="558.0" font-size="14.5" fill="#4a4a4a" text-anchor="middle" textLength="5.5" lengthAdjust="spacingAndGlyphs">1</text>
<path d="M1279.0,578.9 L1270.8,578.9 L1247.3,595.0" fill="none" stroke="#555" stroke-width="0.65"/><circle cx="1247.3" cy="595.0" r="1.35" fill="#111"/>
<rect x="1279.0" y="570.9" width="26.6" height="16.0" rx="8.0" ry="8.0" fill="#fff" stroke="#6a6a6a" stroke-width="0.75"/><text x="1292.3" y="584.0" font-size="14.5" fill="#4a4a4a" text-anchor="middle" textLength="7.6" lengthAdjust="spacingAndGlyphs">2</text>
<line x1="872.8" y1="677.7" x2="872.8" y2="684.4" stroke="#555" stroke-width="0.6"/>
<line x1="872.8" y1="709.7" x2="872.8" y2="717.2" stroke="#555" stroke-width="0.6"/>
<line x1="872.8" y1="722.2" x2="872.8" y2="728.2" stroke="#555" stroke-width="0.6"/>
<path d="M864.3,668.2 L864.9,675.5 A7.9,2.7 0 0 0 880.7,675.5 L881.3,668.2" fill="#f6f6f6" stroke="#333" stroke-width="0.8"/>
<ellipse cx="872.8" cy="668.2" rx="8.8" ry="3.3" fill="#fff" stroke="#333" stroke-width="0.8"/>
<path d="M869.8,672.7 L869.8,677.5 M875.8,672.8 L875.8,677.5" stroke="#888" stroke-width="0.5"/>
<path d="M878.0,670.6 L880.4,669.8 L879.8,675.8 L877.8,676.8 Z" fill="#444"/>
<path d="M868.4,685.7 L868.4,690.5 A4.4,1.5 0 0 0 877.2,690.5 L877.2,685.7" fill="#f2f2f2" stroke="#333" stroke-width="0.7"/>
<ellipse cx="872.8" cy="685.7" rx="4.4" ry="1.5" fill="#fff" stroke="#333" stroke-width="0.7"/>
<ellipse cx="872.8" cy="685.7" rx="2" ry="0.7" fill="#666"/>
<rect x="870.5" y="691.1" width="4.6" height="18.4" rx="1" fill="#1c1c1c"/>
<ellipse cx="872.8" cy="719.6" rx="8" ry="3.2" fill="#fff" stroke="#222" stroke-width="0.9"/>
<ellipse cx="872.8" cy="719.8" rx="2.6" ry="1" fill="none" stroke="#333" stroke-width="0.7"/>
<path d="M874.8,722.7 A8,3.2 0 0 0 880.8,719.6" fill="none" stroke="#111" stroke-width="1.5"/>
<path d="M911.0,648.0 L902.8,648.0 L878.8,663.8" fill="none" stroke="#555" stroke-width="0.65"/><circle cx="878.8" cy="663.8" r="1.35" fill="#111"/>
<rect x="911.0" y="640.0" width="26.6" height="16.0" rx="8.0" ry="8.0" fill="#fff" stroke="#6a6a6a" stroke-width="0.75"/><text x="924.3" y="653.1" font-size="14.5" fill="#4a4a4a" text-anchor="middle" textLength="7.6" lengthAdjust="spacingAndGlyphs">3</text>
<path d="M911.0,676.5 L902.8,676.5 L878.6,692.8" fill="none" stroke="#555" stroke-width="0.65"/><circle cx="878.6" cy="692.8" r="1.35" fill="#111"/>
<rect x="911.0" y="668.5" width="26.6" height="16.0" rx="8.0" ry="8.0" fill="#fff" stroke="#6a6a6a" stroke-width="0.75"/><text x="924.3" y="681.6" font-size="14.5" fill="#4a4a4a" text-anchor="middle" textLength="5.5" lengthAdjust="spacingAndGlyphs">1</text>
<path d="M911.0,702.8 L902.8,702.8 L879.0,718.9" fill="none" stroke="#555" stroke-width="0.65"/><circle cx="879.0" cy="718.9" r="1.35" fill="#111"/>
<rect x="911.0" y="694.8" width="26.6" height="16.0" rx="8.0" ry="8.0" fill="#fff" stroke="#6a6a6a" stroke-width="0.75"/><text x="924.3" y="707.9" font-size="14.5" fill="#4a4a4a" text-anchor="middle" textLength="7.6" lengthAdjust="spacingAndGlyphs">2</text>
<line x1="559.4" y1="247.3" x2="559.4" y2="254.0" stroke="#555" stroke-width="0.6"/>
<line x1="559.4" y1="279.3" x2="559.4" y2="286.8" stroke="#555" stroke-width="0.6"/>
<line x1="559.4" y1="291.8" x2="559.4" y2="297.8" stroke="#555" stroke-width="0.6"/>
<path d="M550.9,237.8 L551.5,245.1 A7.9,2.7 0 0 0 567.3,245.1 L567.9,237.8" fill="#f6f6f6" stroke="#333" stroke-width="0.8"/>
<ellipse cx="559.4" cy="237.8" rx="8.8" ry="3.3" fill="#fff" stroke="#333" stroke-width="0.8"/>
<path d="M556.4,242.3 L556.4,247.1 M562.4,242.4 L562.4,247.1" stroke="#888" stroke-width="0.5"/>
<path d="M564.6,240.2 L567.0,239.4 L566.4,245.4 L564.4,246.4 Z" fill="#444"/>
<path d="M555.0,255.3 L555.0,260.1 A4.4,1.5 0 0 0 563.8,260.1 L563.8,255.3" fill="#f2f2f2" stroke="#333" stroke-width="0.7"/>
<ellipse cx="559.4" cy="255.3" rx="4.4" ry="1.5" fill="#fff" stroke="#333" stroke-width="0.7"/>
<ellipse cx="559.4" cy="255.3" rx="2" ry="0.7" fill="#666"/>
<rect x="557.1" y="260.7" width="4.6" height="18.4" rx="1" fill="#1c1c1c"/>
<ellipse cx="559.4" cy="289.2" rx="8" ry="3.2" fill="#fff" stroke="#222" stroke-width="0.9"/>
<ellipse cx="559.4" cy="289.4" rx="2.6" ry="1" fill="none" stroke="#333" stroke-width="0.7"/>
<path d="M561.4,292.3 A8,3.2 0 0 0 567.4,289.2" fill="none" stroke="#111" stroke-width="1.5"/>
<path d="M598.4,221.1 L590.2,221.1 L566.7,237.3" fill="none" stroke="#555" stroke-width="0.65"/><circle cx="566.7" cy="237.3" r="1.35" fill="#111"/>
<rect x="598.4" y="213.1" width="26.6" height="16.0" rx="8.0" ry="8.0" fill="#fff" stroke="#6a6a6a" stroke-width="0.75"/><text x="611.7" y="226.2" font-size="14.5" fill="#4a4a4a" text-anchor="middle" textLength="7.6" lengthAdjust="spacingAndGlyphs">3</text>
<path d="M598.4,247.3 L590.2,247.3 L566.2,263.7" fill="none" stroke="#555" stroke-width="0.65"/><circle cx="566.2" cy="263.7" r="1.35" fill="#111"/>
<rect x="598.4" y="239.3" width="26.6" height="16.0" rx="8.0" ry="8.0" fill="#fff" stroke="#6a6a6a" stroke-width="0.75"/><text x="611.7" y="252.4" font-size="14.5" fill="#4a4a4a" text-anchor="middle" textLength="5.5" lengthAdjust="spacingAndGlyphs">1</text>
<path d="M598.4,273.5 L590.2,273.5 L566.7,289.1" fill="none" stroke="#555" stroke-width="0.65"/><circle cx="566.7" cy="289.1" r="1.35" fill="#111"/>
<rect x="598.4" y="265.5" width="26.6" height="16.0" rx="8.0" ry="8.0" fill="#fff" stroke="#6a6a6a" stroke-width="0.75"/><text x="611.7" y="278.6" font-size="14.5" fill="#4a4a4a" text-anchor="middle" textLength="7.6" lengthAdjust="spacingAndGlyphs">2</text>
<line x1="188.1" y1="377.1" x2="188.1" y2="383.8" stroke="#555" stroke-width="0.6"/>
<line x1="188.1" y1="409.1" x2="188.1" y2="416.6" stroke="#555" stroke-width="0.6"/>
<line x1="188.1" y1="421.6" x2="188.1" y2="427.6" stroke="#555" stroke-width="0.6"/>
<path d="M179.6,367.6 L180.2,374.9 A7.9,2.7 0 0 0 196.0,374.9 L196.6,367.6" fill="#f6f6f6" stroke="#333" stroke-width="0.8"/>
<ellipse cx="188.1" cy="367.6" rx="8.8" ry="3.3" fill="#fff" stroke="#333" stroke-width="0.8"/>
<path d="M185.1,372.1 L185.1,376.9 M191.1,372.2 L191.1,376.9" stroke="#888" stroke-width="0.5"/>
<path d="M182.9,370.0 L180.5,369.2 L181.1,375.2 L183.1,376.2 Z" fill="#444"/>
<path d="M183.7,385.1 L183.7,389.9 A4.4,1.5 0 0 0 192.5,389.9 L192.5,385.1" fill="#f2f2f2" stroke="#333" stroke-width="0.7"/>
<ellipse cx="188.1" cy="385.1" rx="4.4" ry="1.5" fill="#fff" stroke="#333" stroke-width="0.7"/>
<ellipse cx="188.1" cy="385.1" rx="2" ry="0.7" fill="#666"/>
<rect x="185.8" y="390.5" width="4.6" height="18.4" rx="1" fill="#1c1c1c"/>
<ellipse cx="188.1" cy="419.0" rx="8" ry="3.2" fill="#fff" stroke="#222" stroke-width="0.9"/>
<ellipse cx="188.1" cy="419.2" rx="2.6" ry="1" fill="none" stroke="#333" stroke-width="0.7"/>
<path d="M186.1,422.1 A8,3.2 0 0 1 180.1,419.0" fill="none" stroke="#111" stroke-width="1.5"/>
<path d="M149.9,350.4 L158.1,350.4 L182.3,366.3" fill="none" stroke="#555" stroke-width="0.65"/><circle cx="182.3" cy="366.3" r="1.35" fill="#111"/>
<rect x="123.3" y="342.4" width="26.6" height="16.0" rx="8.0" ry="8.0" fill="#fff" stroke="#6a6a6a" stroke-width="0.75"/><text x="136.6" y="355.5" font-size="14.5" fill="#4a4a4a" text-anchor="middle" textLength="7.6" lengthAdjust="spacingAndGlyphs">3</text>
<path d="M149.9,376.4 L158.1,376.4 L182.8,392.7" fill="none" stroke="#555" stroke-width="0.65"/><circle cx="182.8" cy="392.7" r="1.35" fill="#111"/>
<rect x="123.3" y="368.4" width="26.6" height="16.0" rx="8.0" ry="8.0" fill="#fff" stroke="#6a6a6a" stroke-width="0.75"/><text x="136.6" y="381.5" font-size="14.5" fill="#4a4a4a" text-anchor="middle" textLength="5.5" lengthAdjust="spacingAndGlyphs">1</text>
<path d="M149.9,402.3 L158.1,402.3 L182.3,418.2" fill="none" stroke="#555" stroke-width="0.65"/><circle cx="182.3" cy="418.2" r="1.35" fill="#111"/>
<rect x="123.3" y="394.3" width="26.6" height="16.0" rx="8.0" ry="8.0" fill="#fff" stroke="#6a6a6a" stroke-width="0.75"/><text x="136.6" y="407.4" font-size="14.5" fill="#4a4a4a" text-anchor="middle" textLength="7.6" lengthAdjust="spacingAndGlyphs">2</text>
<ellipse cx="657.1" cy="109.3" rx="49" ry="12.1" fill="none" stroke="#2f7fe0" stroke-width="1.25"/>
<ellipse cx="656.9" cy="108.8" rx="41.3" ry="9.2" fill="none" stroke="#2f7fe0" stroke-width="1.25"/>
<rect x="634.5" y="92" width="44" height="14.5" fill="#fff"/>
<rect x="625.5" y="109" width="60.5" height="17.5" fill="#fff"/>
<text x="636.8" y="105.4" font-size="23.6" font-weight="bold" fill="#233266" stroke="#233266" stroke-width="1.5" stroke-linejoin="round" textLength="39.4" lengthAdjust="spacingAndGlyphs">TÜV</text>
<text x="628.4" y="125.1" font-size="21.6" font-weight="bold" fill="#555" stroke="#555" stroke-width="2.6" stroke-linejoin="round" textLength="55.4" lengthAdjust="spacingAndGlyphs">CERT</text>
<text x="628.4" y="125.1" font-size="21.6" font-weight="bold" fill="#fff" stroke="#fff" stroke-width="1.1" stroke-linejoin="round" textLength="55.4" lengthAdjust="spacingAndGlyphs">CERT</text>
<path d="M1165.7,168.8 L1200.0,166.4 L1255.0,166.0 L1264.0,169.3 L1303.9,188.8 L1343.0,195.3 L1356.9,200.9 L1361.5,206.5 L1365.3,213.9 L1366.7,223.2 L1365.3,232.5 L1352.2,234.4 L1347.6,236.2 L1300.0,237.2 L1250.0,237.2 L1201.9,234.4 L1154.5,232.0 L1144.3,230.6 L1140.6,225.1 L1140.1,214.8 L1143.4,213.0 L1144.3,201.8 L1146.2,191.6 L1151.7,187.9 Z" fill="#fff" stroke="#8a8a8a" stroke-width="0.8" stroke-linejoin="round"/>
<path d="M1201.9,224.1 L1296.5,226.0 L1297.0,237.2 L1201.9,234.4 Z" fill="#dcdcdc" stroke="#8a8a8a" stroke-width="0.6"/>
<path d="M1140.6,215.0 L1156.0,216.0 L1156.0,232.0 L1144.3,230.6 L1140.6,225.1 Z" fill="#e2e2e2" stroke="#8a8a8a" stroke-width="0.5"/>
<path d="M1347.0,224.0 L1366.7,223.2 L1365.3,232.5 L1352.2,234.4 L1347.6,236.2 Z" fill="#e6e6e6" stroke="#8a8a8a" stroke-width="0.5"/>
<path d="M1152.4,237 A23.5,23.5 0 0 1 1199.4,237 Z" fill="#fff" stroke="#8a8a8a" stroke-width="0.7"/>
<path d="M1154.9,237 A21,21 0 0 1 1196.9,237 Z" fill="#606060"/>
<circle cx="1175.9" cy="230.6" r="17.6" fill="#6e6e6e"/>
<circle cx="1175.9" cy="230.6" r="12" fill="#d9d9d9" stroke="#888" stroke-width="0.5"/>
<path d="M1175.9,228.6 L1175.9,219.6 M1177.8,230.0 L1186.4,227.2 M1177.1,232.2 L1182.4,239.5 M1174.7,232.2 L1169.4,239.5 M1174.0,230.0 L1165.4,227.2" stroke="#f4f4f4" stroke-width="3.2" stroke-linecap="round"/>
<circle cx="1175.9" cy="230.6" r="2.3" fill="#888"/>
<path d="M1300.4,237 A23.5,23.5 0 0 1 1347.4,237 Z" fill="#fff" stroke="#8a8a8a" stroke-width="0.7"/>
<path d="M1302.9,237 A21,21 0 0 1 1344.9,237 Z" fill="#606060"/>
<circle cx="1323.9" cy="230.6" r="17.6" fill="#6e6e6e"/>
<circle cx="1323.9" cy="230.6" r="12" fill="#d9d9d9" stroke="#888" stroke-width="0.5"/>
<path d="M1323.9,228.6 L1323.9,219.6 M1325.8,230.0 L1334.4,227.2 M1325.1,232.2 L1330.4,239.5 M1322.7,232.2 L1317.4,239.5 M1322.0,230.0 L1313.4,227.2" stroke="#f4f4f4" stroke-width="3.2" stroke-linecap="round"/>
<circle cx="1323.9" cy="230.6" r="2.3" fill="#888"/>
<path d="M1175.0,175.3 L1191.7,171.2 L1185.7,183.7 Z" fill="#fff" stroke="#222" stroke-width="0.9"/>
<path d="M1191.7,171.2 L1196.5,170.5 L1194.5,187.0 L1185.7,184.5 Z" fill="#9a9a9a"/>
<path d="M1196.5,170.2 L1228.9,169.8 L1229.8,188.8 L1194.5,187.0 Z" fill="#fff" stroke="#8a8a8a" stroke-width="0.6"/>
<path d="M1229.8,169.8 L1236.5,170.0 L1236.8,189.5 L1230.0,189.0 Z" fill="#8f8f8f"/>
<path d="M1237.0,170.2 L1263.9,172.0 L1285.0,186.0 L1285.0,189.5 L1237.0,189.5 Z" fill="#fff" stroke="#8a8a8a" stroke-width="0.6"/>
<path d="M1185,187 L1237,189.5 L1293.7,194.4" stroke="#222" stroke-width="1" fill="none"/>
<path d="M1264,169.3 L1303.9,188.8 M1262,171 L1301,189.5" stroke="#555" stroke-width="0.8" fill="none"/>
<path d="M1279,189 C1278,184 1283,182 1288,185 L1292,193 L1281,193 Z" fill="#fff" stroke="#444" stroke-width="0.7"/>
<path d="M1165.7,168.8 L1151.7,187.9" stroke="#444" stroke-width="1" fill="none"/>
<path d="M1166,167.5 L1255,165.2 L1263,168" stroke="#999" stroke-width="1.6" fill="none"/>
<path d="M1146.2,192.5 L1161.0,190.7 L1151.7,200.9 L1145.2,200.9 Z" fill="#ec8a52" stroke="#c96a30" stroke-width="0.4"/>
<path d="M1146,195 L1190,195.5 L1366,201 M1162,201 C1180,200 1195,204 1200,212 M1235.9,190 L1235.5,234 M1298.3,195.3 L1297.4,236.2 M1195.5,190 L1196,234" stroke="#aaa" stroke-width="0.5" fill="none"/>
<path d="M1190,195.5 L1199,195.5 M1238,197 L1247,197" stroke="#777" stroke-width="1.2"/>
<path d="M1345.7,199 L1356.5,201 L1362.5,212.1 L1354,211 Z" fill="#fff" stroke="#666" stroke-width="0.6"/>
<circle cx="1361" cy="225.5" r="2.2" fill="none" stroke="#777" stroke-width="0.6"/>
<path d="M868.2,297.7 L888.6,313.0 L887.6,315.0 L858.3,331.0 L837.5,315.5 L838.4,314.3 Z" fill="#fff" stroke="#1e1e1e" stroke-width="1" stroke-linejoin="round"/>
<path d="M837.5,315.5 L835.6,326.3 L856.8,341.8 L858.3,331.0 Z" fill="#fff" stroke="#1e1e1e" stroke-width="1" stroke-linejoin="round"/>
<path d="M858.3,331 L887.6,315 M856.8,341.8 L884.3,320.8" stroke="#1e1e1e" stroke-width="1" fill="none"/>
<path d="M858.3,331 L856.8,341.8" stroke="#1e1e1e" stroke-width="1.1" fill="none"/>
<path d="M838.5,323.5 L853.5,334.3" stroke="#888" stroke-width="2.2" fill="none"/>
<path d="M840.3,318.6 L853,327.8 M841.8,322.6 L852.5,330.2 M838.6,318.5 L838.3,325 L854.5,336.6 L856,331.5" stroke="#1e1e1e" stroke-width="0.9" fill="none"/>
<circle cx="839" cy="317" r="1.5" fill="#fff" stroke="#222" stroke-width="0.7"/><circle cx="856.4" cy="330" r="1.5" fill="#fff" stroke="#222" stroke-width="0.7"/>
<path d="M842,318 C843,315.5 846,315.8 846.5,318.5 M851.5,324.5 C852.5,322.5 855,323 855,325.5" stroke="#222" stroke-width="0.8" fill="none"/>
<ellipse cx="865.4" cy="312.3" rx="6.2" ry="4.2" fill="#fff" stroke="#1e1e1e" stroke-width="1"/>
<path d="M860.2,314 C862,310.8 869,310.8 870.6,314 C868.5,316.3 862.5,316.3 860.2,314 Z" fill="#333"/>
<path d="M882,319 L885.6,323.6" stroke="#333" stroke-width="1.4"/><path d="M882,319 L885.6,323.6" stroke="#fff" stroke-width="0.5"/>
<path d="M909.6,286.5 L912.5,282.7 L917.0,280.2 L933.0,274.6 L1040.8,335.5 L1041.0,338.8 L1039.0,340.6 L1021.0,351.3 L1013.5,353.0 L1011.0,352.5 L910.3,292.2 L909.0,289.5 Z" fill="#fff" stroke="#222" stroke-width="0.9" stroke-linejoin="round"/>
<path d="M910.3,294.2 L1011,354.5 L1014,355" stroke="#222" stroke-width="0.7" fill="none"/>
<ellipse cx="934.6" cy="289.5" rx="6.8" ry="3" fill="#fff" stroke="#222" stroke-width="0.8"/>
<ellipse cx="1014.3" cy="335.5" rx="6.8" ry="3" fill="#fff" stroke="#222" stroke-width="0.8"/>
<path d="M976,295.8 L1002.7,288.2 L1012.7,282.4 M979.5,297.5 L1011,314.8 M1002.7,289.5 L1011,295" stroke="#222" stroke-width="0.8" fill="none"/>
<path d="M1012.7,282.4 L1015.3,290 L1013.8,305 L1011,314.8 M1015.5,283.8 L1017.8,290.5 L1016,306 L1013.6,315.5" stroke="#333" stroke-width="0.7" fill="none"/>
<path d="M939.6,269.9 L941.5,267.0 L963.0,252.5 L966.2,251.6 L968.5,252.5 L1011.0,280.0 L1012.7,282.4 L1010.0,284.5 L978.5,295.4 L976.1,295.6 L973.5,294.0 Z" fill="#fff" stroke="#222" stroke-width="0.9" stroke-linejoin="round"/>
<path d="M941,272 L974,296.5 L978.5,297.2 L1011.5,286" stroke="#444" stroke-width="0.6" fill="none"/>
<ellipse cx="972.8" cy="274.9" rx="8.4" ry="4.8" fill="#fff" stroke="#222" stroke-width="0.9"/>
<path d="M967,277 L970,272 L975,272" stroke="#333" stroke-width="0.6" fill="none"/>
<path d="M898.4,321.6 C903,319.5 907,317 910.5,313.8 C914,310.6 917.5,308 921,307.1 L951.3,306.3 L944.5,321.6 L941.7,317 C937,319 933,320.6 928,321.8 C920,323.6 910,324 898.4,321.6 Z" fill="#2a2a2a"/>
<g transform="translate(1104.5,905.6) skewY(-14.7)"><text x="-1.8" y="0.6" font-size="40" font-weight="bold" textLength="186" lengthAdjust="spacingAndGlyphs" fill="#fff" stroke="#7a7a7a" stroke-width="0.8" stroke-linejoin="round">FRONT (ÖN)</text><text x="0" y="0" font-size="40" font-weight="bold" textLength="186" lengthAdjust="spacingAndGlyphs" fill="#fff" stroke="#6a6a6a" stroke-width="0.8" stroke-linejoin="round">FRONT (ÖN)</text></g>
<text class="tb" x="839.2" y="278.5" font-size="15.4" textLength="57.5" lengthAdjust="spacingAndGlyphs" >FIRSTLY</text>
<text class="tb" x="870.9" y="379.5" font-size="38.5" textLength="45.6" lengthAdjust="spacingAndGlyphs" >x4</text>
<text class="tb" x="897.2" y="526.6" font-size="16.3" textLength="82.8" lengthAdjust="spacingAndGlyphs" >LEFT (SOL)</text>
<text class="tb" x="517.8" y="656.2" font-size="15.8" textLength="96.6" lengthAdjust="spacingAndGlyphs" >RIGHT (SAĞ)</text>
<text class="t" x="1117.0" y="277.5" font-size="17.3" textLength="251.1" lengthAdjust="spacingAndGlyphs" >NSS QSHQ +2 (J10) SUV 07-13</text>
<text class="t" transform="translate(1384.1,936) rotate(-90)" font-size="14.5" textLength="178.3" lengthAdjust="spacingAndGlyphs">Rev 1.0 - 08.06.2020 (TPRK)</text>
</svg>
</body></html>
